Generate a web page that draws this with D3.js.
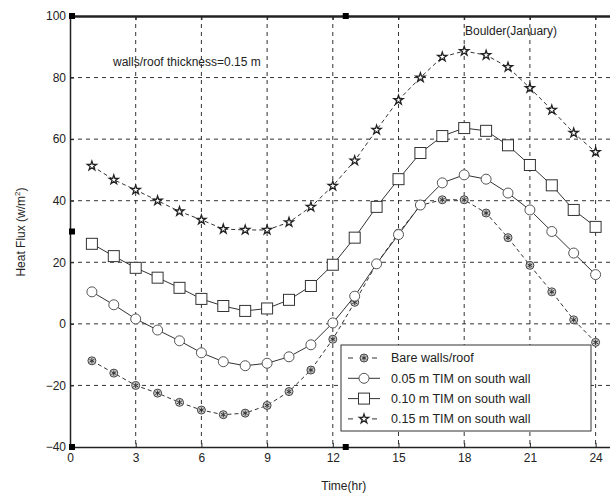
<!DOCTYPE html>
<html>
<head>
<meta charset="utf-8">
<script src="https://cdn.jsdelivr.net/npm/d3@7"></script>
<style>
  body { margin: 0; background: #fff; }
  svg { display: block; font-family: "Liberation Sans", Arial, sans-serif; }
</style>
</head>
<body>
<div id="chart"></div>
<script>
// ── Datos (lectura del gráfico) ─────────────────────────
const hours  = [1,2,3,4,5,6,7,8,9,10,11,12,13,14,15,16,17,18,19,20,21,22,23,24];
const bare   = [-12,-16,-20,-22.5,-25.5,-28,-29.5,-29,-26.5,-22,-15,-5,7,19.5,29.5,38.5,40.3,40.3,36,28,19,10.4,1.3,-6];
const tim005 = [10.4,6.2,1.6,-2,-5.5,-9.4,-12.3,-13.6,-12.8,-10.7,-6.8,0.3,9,19.5,29,38.6,45.8,48.4,47,42.5,37,30,23,16];
const tim010 = [26,22,18.2,15,11.7,8.1,5.8,4.2,5,7.8,12.3,19.2,28,38,47,55.5,61,63.6,62.7,58,51.6,45,37,31.5];
const tim015 = [51.3,46.8,43.5,40,36.5,33.8,30.8,30.5,30.5,33,38,44.8,53,63,72.7,80,86.7,88.6,87.3,83.4,76.6,69.5,62,55.8];

const xTicks = [0,3,6,9,12,15,18,21,24];
const yTicks = [-40,-20,0,20,40,60,80,100];
const seriesNames = ['Bare walls/roof','0.05 m TIM on south wall','0.10 m TIM on south wall','0.15 m TIM on south wall'];
// marcadores negros sueltos del original
const blackMarks = [[0,100],[0,30],[0,-40],[12.5,100],[12.5,-40]];

const W = 610, H = 499;
const ink = '#222';

const svg = d3.select('#chart').append('svg').attr('width', W).attr('height', H);

const x = d3.scaleLinear().domain([0, 25]).range([70, 617.5]);
const y = d3.scaleLinear().domain([-40, 100]).range([447, 16]);

// ── Rejilla ─────────────────────────────────────────────
const grid = svg.append('g');
grid.selectAll('line.gx').data(xTicks.filter(t => t > 0))
  .join('line').attr('class','gx')
  .attr('x1', d => x(d)).attr('x2', d => x(d))
  .attr('y1', y(100)).attr('y2', y(-40))
  .attr('stroke', '#333').attr('stroke-width', 1).attr('stroke-dasharray', '4,4');
grid.selectAll('line.gy').data(yTicks.filter(t => t > -40 && t < 100))
  .join('line').attr('class','gy')
  .attr('x1', x(0)).attr('x2', W)
  .attr('y1', d => y(d)).attr('y2', d => y(d))
  .attr('stroke', '#333').attr('stroke-width', 1).attr('stroke-dasharray', '4,4');

// ── Ejes ────────────────────────────────────────────────
const xAxis = svg.append('g').attr('transform', `translate(0,${y(-40)})`)
  .call(d3.axisBottom(x).tickValues(xTicks).tickSizeInner(-4).tickSizeOuter(0).tickPadding(8));
const xAxisTop = svg.append('g').attr('transform', `translate(0,${y(100)})`)
  .call(d3.axisTop(x).tickValues(xTicks).tickSizeInner(-4).tickSizeOuter(0).tickFormat(''));
const yAxis = svg.append('g').attr('transform', `translate(${x(0)},0)`)
  .call(d3.axisLeft(y).tickValues(yTicks).tickSizeInner(-4).tickSizeOuter(0).tickPadding(4));

[xAxis, xAxisTop, yAxis].forEach(a => {
  a.select('.domain').attr('stroke', ink).attr('stroke-width', 1.5);
  a.selectAll('.tick line').attr('stroke', ink);
  a.selectAll('.tick text').attr('fill', ink).style('font-size', '12px');
});
xAxisTop.select('.domain').attr('stroke-width', 2.5);
xAxis.selectAll('.tick text').attr('dy', '0.55em');

// ── Líneas y marcadores ─────────────────────────────────
const line = d3.line().x((d, i) => x(hours[i])).y(d => y(d));
const plot = svg.append('g');

const series = [
  { name: seriesNames[0], values: bare,   dash: '4,3', marker: 'bare' },
  { name: seriesNames[1], values: tim005, dash: null,  marker: 'circle' },
  { name: seriesNames[2], values: tim010, dash: null,  marker: 'square' },
  { name: seriesNames[3], values: tim015, dash: '4,3', marker: 'star' }
];

function drawMarker(g, type) {
  if (type === 'circle') {
    g.append('circle').attr('r', 5).attr('fill', '#fff').attr('stroke', '#555').attr('stroke-width', 1);
  } else if (type === 'square') {
    g.append('rect').attr('x', -5.5).attr('y', -5.5).attr('width', 11).attr('height', 11)
      .attr('fill', '#fff').attr('stroke', '#333').attr('stroke-width', 1);
  } else if (type === 'star') {
    g.append('path').attr('d', d3.symbol(d3.symbolStar, 26)())
      .attr('fill', '#fff').attr('stroke', '#222').attr('stroke-width', 1.3);
  } else {
    g.append('circle').attr('r', 4).attr('fill', '#ccc').attr('stroke', '#444').attr('stroke-width', 1);
    g.append('path').attr('d', d3.symbol(d3.symbolAsterisk || d3.symbolCross, 20)())
      .attr('fill', 'none').attr('stroke', '#333').attr('stroke-width', 1);
  }
}

series.forEach(s => {
  plot.append('path').datum(s.values)
    .attr('d', line)
    .attr('fill', 'none')
    .attr('stroke', '#333')
    .attr('stroke-width', 1)
    .attr('stroke-dasharray', s.dash);
  plot.append('g').selectAll('g').data(s.values).join('g')
    .attr('transform', (d, i) => `translate(${x(hours[i])},${y(d)})`)
    .each(function () { drawMarker(d3.select(this), s.marker); });
});

svg.append('g').selectAll('rect').data(blackMarks).join('rect')
  .attr('x', d => x(d[0]) - 1).attr('y', d => y(d[1]) - 3)
  .attr('width', 6).attr('height', 6).attr('fill', '#000');

// ── Textos ──────────────────────────────────────────────
svg.append('text').attr('x', 113).attr('y', 66)
  .style('font-size', '12px').attr('fill', ink).text('walls/roof thickness=0.15 m');
svg.append('text').attr('x', 465).attr('y', 35)
  .style('font-size', '12px').attr('fill', ink).text('Boulder(January)');
svg.append('text').attr('x', x(12.5)).attr('y', 490).attr('text-anchor', 'middle')
  .style('font-size', '12px').attr('fill', ink).text('Time(hr)');
const yl = svg.append('text').attr('transform', 'translate(25,232) rotate(-90)')
  .attr('text-anchor', 'middle').style('font-size', '12px').attr('fill', ink);
yl.append('tspan').text('Heat Flux (w/m');
yl.append('tspan').attr('dy', -5).style('font-size', '8px').text('2');
yl.append('tspan').attr('dy', 5).text(')');

// ── Leyenda ─────────────────────────────────────────────
const lg = svg.append('g').attr('transform', 'translate(341,345)');
lg.append('rect').attr('width', 250).attr('height', 86)
  .attr('fill', '#fff').attr('stroke', '#333').attr('stroke-width', 1);
series.forEach((s, i) => {
  const row = lg.append('g').attr('transform', `translate(0,${13 + i * 20.3})`);
  row.append('line').attr('x1', 7).attr('x2', 39)
    .attr('stroke', '#333').attr('stroke-width', 1).attr('stroke-dasharray', s.dash ? '5,7' : null);
  const m = row.append('g').attr('transform', 'translate(23,0)');
  drawMarker(m, s.marker);
  row.append('text').attr('x', 50).attr('y', 0).attr('dy', '0.35em')
    .style('font-size', '12.5px').attr('fill', ink).text(s.name);
});
</script>
</body>
</html>
